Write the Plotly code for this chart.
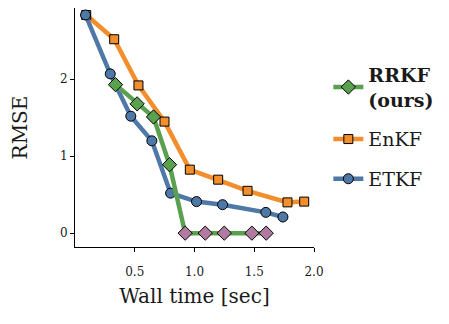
import plotly.graph_objects as go

# Data
etkf_x = [0.088, 0.295, 0.467, 0.643, 0.800, 1.017, 1.235, 1.597, 1.74]
etkf_y = [2.835, 2.07, 1.52, 1.20, 0.52, 0.41, 0.37, 0.27, 0.21]

enkf_x = [0.094, 0.328, 0.531, 0.749, 0.961, 1.198, 1.444, 1.778, 1.918]
enkf_y = [2.835, 2.52, 1.92, 1.45, 0.825, 0.695, 0.55, 0.40, 0.41]

rrkf_x = [0.339, 0.52, 0.657, 0.791, 0.922, 1.09, 1.249, 1.48, 1.60]
rrkf_y = [1.93, 1.68, 1.51, 0.89, 0.0, 0.0, 0.0, 0.0, 0.0]
rrkf_zero = [False, False, False, False, True, True, True, True, True]

x_ticks = [0.5, 1.0, 1.5, 2.0]
x_labels = ["0.5", "1.0", "1.5", "2.0"]
y_ticks = [0, 1, 2]

GREEN = "#59a14f"
ORANGE = "#f28e2b"
BLUE = "#4e79a7"
PINK = "#b07aa1"

FONT = "DejaVu Serif, serif"
TXT = "#1a1a1a"

fig = go.Figure()

fig.add_trace(go.Scatter(
    x=enkf_x, y=enkf_y, mode="lines+markers", name="EnKF",
    legendgroup="b", legendrank=2,
    line=dict(color=ORANGE, width=4.5),
    marker=dict(symbol="square", size=9, color=ORANGE,
                line=dict(color="black", width=1)),
))
fig.add_trace(go.Scatter(
    x=etkf_x, y=etkf_y, mode="lines+markers", name="ETKF",
    legendgroup="c", legendrank=3,
    line=dict(color=BLUE, width=4.5),
    marker=dict(symbol="circle", size=10, color=BLUE,
                line=dict(color="black", width=1)),
))
fig.add_trace(go.Scatter(
    x=rrkf_x, y=rrkf_y, mode="lines+markers", name="<b>RRKF<br>(ours)</b>",
    legendgroup="a", legendrank=1,
    line=dict(color=GREEN, width=4.5),
    marker=dict(symbol="diamond", size=11,
                color=[PINK if z else GREEN for z in rrkf_zero],
                line=dict(color="black", width=1)),
))

fig.update_layout(
    width=441, height=316,
    margin=dict(l=67, r=135, t=0, b=77),
    paper_bgcolor="white", plot_bgcolor="white",
    font=dict(family=FONT, size=12, color=TXT),
    showlegend=True,
    legend=dict(x=1.06, y=0.80, xanchor="left", yanchor="top",
                font=dict(family=FONT, size=19, color=TXT),
                tracegroupgap=12, itemwidth=30, traceorder="grouped"),
    xaxis=dict(range=[0, 2.0], tickvals=x_ticks, ticktext=x_labels,
               showgrid=False, zeroline=False, showline=True, linecolor="black", linewidth=1,
               ticks="outside", ticklen=4, tickcolor="black",
               tickfont=dict(size=12), ticklabelstandoff=10,
               title=dict(text="Wall time [sec]", font=dict(size=20), standoff=10)),
    yaxis=dict(range=[-0.18, 2.926], tickvals=y_ticks,
               showgrid=False, zeroline=False, showline=True, linecolor="black", linewidth=1,
               ticks="outside", ticklen=4, tickcolor="black",
               tickfont=dict(size=12),
               title=dict(text="RMSE", font=dict(size=20), standoff=27)),
)

fig.write_html("out.html")
